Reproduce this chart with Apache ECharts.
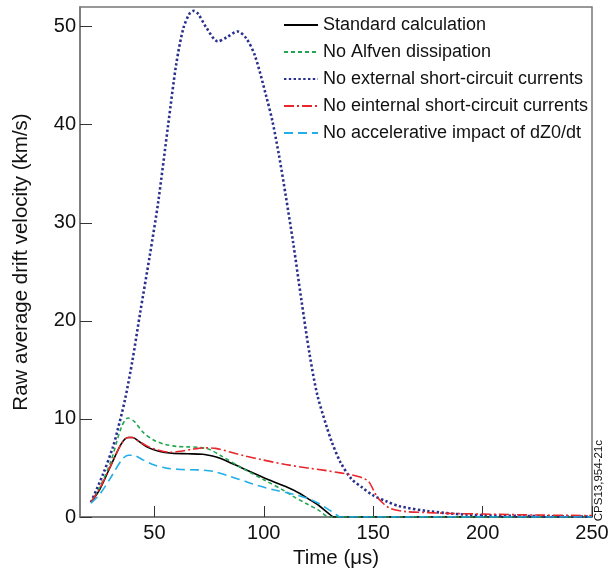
<!DOCTYPE html>
<html>
<head>
<meta charset="utf-8">
<script src="https://cdn.jsdelivr.net/npm/echarts@6/dist/echarts.min.js"></script>
<style>
  html, body { margin: 0; padding: 0; background: #fff; }
  #driftChart { width: 610px; height: 570px; }
</style>
</head>
<body>
<div id="driftChart"></div>
<script>
// time (us) and velocity (km/s)
const tStandard = [21, 25, 30, 35, 38, 40, 43, 47, 52, 58, 65, 72, 77, 80, 90, 100, 110, 116.5, 120, 125, 130, 132, 140, 250];
const vStandard = [1.5, 2.8, 5.2, 7.5, 8.1, 8.1, 7.7, 7.1, 6.7, 6.5, 6.45, 6.4, 6.2, 6.0, 5.0, 4.0, 3.1, 2.4, 1.9, 1.2, 0.3, 0, 0, 0];

const tAlfven = [21, 25, 30, 35, 38, 41, 45, 50, 55, 60, 65, 70, 75, 80, 90, 100, 110, 113.4, 120, 125, 130, 140, 250];
const vAlfven = [1.5, 3.0, 5.6, 9.2, 10.1, 9.7, 8.6, 7.8, 7.4, 7.2, 7.15, 7.1, 6.9, 6.3, 5.0, 3.8, 2.6, 2.1, 1.3, 0.7, 0, 0, 0];

const tExternal = [21, 26.6, 31, 33, 36.5, 40, 43.4, 48, 51.8, 56.3, 60, 63.2, 66, 68, 70, 74, 79, 83, 88, 92, 96, 101, 104, 107, 110, 113.4, 117.2, 121, 124.4, 128.6, 131, 135, 140, 145, 150, 156, 162, 175, 192, 220, 250];
const vExternal = [1.5, 4.4, 7.1, 8.7, 11.9, 16, 20.7, 26.8, 32.2, 40, 46.2, 49.8, 51.3, 51.6, 51.3, 49.8, 48.5, 48.9, 49.5, 48.8, 47, 43, 40.3, 36.8, 32.8, 28, 22.1, 16.5, 12.5, 9.3, 7.7, 5.6, 3.9, 3.0, 2.2, 1.6, 1.1, 0.6, 0.25, 0.1, 0.05];

const tInternal = [21, 25, 30, 35, 38, 40, 43, 47, 52, 57, 62, 67, 73, 78, 85, 92, 100, 110, 120, 128, 135, 140, 145, 148, 150, 152, 155, 158, 165, 175, 185, 200, 225, 250];
const vInternal = [1.5, 2.9, 5.2, 7.5, 8.1, 8.1, 7.7, 7.2, 6.8, 6.6, 6.7, 6.9, 7.05, 7.0, 6.6, 6.2, 5.8, 5.35, 5.0, 4.75, 4.5, 4.3, 4.0, 3.6, 2.8, 2.0, 1.3, 0.85, 0.55, 0.45, 0.37, 0.3, 0.2, 0.15];

const tAccel = [21, 25, 30, 35, 38, 40, 45, 50, 55, 62, 70, 77, 85, 92, 98, 105, 113, 120, 125, 130, 134, 135, 250];
const vAccel = [1.4, 2.3, 4.0, 5.8, 6.3, 6.3, 5.8, 5.3, 5.0, 4.85, 4.8, 4.65, 4.1, 3.6, 3.15, 2.75, 2.35, 1.9, 1.4, 0.7, 0.1, 0, 0];

const seriesNames = [
  'Standard calculation',
  'No Alfven dissipation',
  'No external short-circuit currents',
  'No einternal short-circuit currents',
  'No accelerative impact of dZ0/dt'
];
const xTicks = [50, 100, 150, 200, 250];
const yTicks = [0, 10, 20, 30, 40, 50];

function pairs(t, v) {
  return t.map((x, i) => [x, v[i]]);
}

const chart = echarts.init(document.getElementById('driftChart'));
const font = 'Liberation Sans, Arial, Helvetica, sans-serif';

const styles = [
  { color: '#000000', width: 1.6, type: 'solid' },
  { color: '#1fa64e', width: 1.6, type: [4, 3] },
  { color: '#2a2f8e', width: 2.6, type: [2.4, 2.4] },
  { color: '#e8262b', width: 1.6, type: [10, 3, 2, 3] },
  { color: '#22aee8', width: 1.6, type: [9, 5] }
];
const dataList = [
  pairs(tStandard, vStandard),
  pairs(tAlfven, vAlfven),
  pairs(tExternal, vExternal),
  pairs(tInternal, vInternal),
  pairs(tAccel, vAccel)
];

// draw order: blue first so the low curves sit on top
const order = [2, 4, 1, 3, 0];
const seriesList = order.map(function (k) {
  return {
    name: seriesNames[k],
    type: 'line',
    data: dataList[k],
    showSymbol: false,
    symbol: 'none',
    smooth: 0.3,
    lineStyle: { color: styles[k].color, width: styles[k].width, type: styles[k].type },
    itemStyle: { color: styles[k].color },
    z: 2 + k
  };
});

const option = {
  animation: false,
  backgroundColor: '#fff',
  grid: {
    left: 80, right: 18, top: 7, bottom: 53,
    outerBoundsMode: 'none',
    show: true,
    borderColor: '#777',
    borderWidth: 1.5
  },
  legend: {
    data: seriesNames,
    orient: 'vertical',
    left: 278,
    top: 10,
    itemWidth: 34,
    itemHeight: 14,
    itemGap: 7,
    itemStyle: { opacity: 0 },
    textStyle: { fontFamily: font, fontSize: 18, color: '#111', lineHeight: 20 }
  },
  xAxis: {
    type: 'value',
    min: 16,
    max: 250,
    name: 'Time (\u03bcs)',
    nameLocation: 'middle',
    nameGap: 25,
    nameTextStyle: { fontFamily: font, fontSize: 20.5, color: '#111' },
    axisLine: { show: true, onZero: false, lineStyle: { color: '#777', width: 1.5 } },
    axisTick: { show: true, inside: true, length: 11, customValues: xTicks, lineStyle: { color: '#333' } },
    axisLabel: { customValues: xTicks, fontFamily: font, fontSize: 20, color: '#111', margin: 6 },
    splitLine: { show: false }
  },
  yAxis: {
    type: 'value',
    min: 0,
    max: 52,
    name: 'Raw average drift velocity (km/s)',
    nameLocation: 'middle',
    nameGap: 48,
    nameTextStyle: { fontFamily: font, fontSize: 20.5, color: '#111' },
    axisLine: { show: true, lineStyle: { color: '#777', width: 1.5 } },
    axisTick: { show: true, inside: true, length: 12, customValues: yTicks, lineStyle: { color: '#333' } },
    axisLabel: { customValues: yTicks, fontFamily: font, fontSize: 20, color: '#111', margin: 4 },
    splitLine: { show: false }
  },
  graphic: [{
    type: 'text',
    left: 593,
    top: 440,
    rotation: Math.PI / 2,
    style: { text: 'CPS13,954-21c', fontFamily: font, fontSize: 11.5, fill: '#111' }
  }],
  series: seriesList
};

chart.setOption(option);
</script>
</body>
</html>
